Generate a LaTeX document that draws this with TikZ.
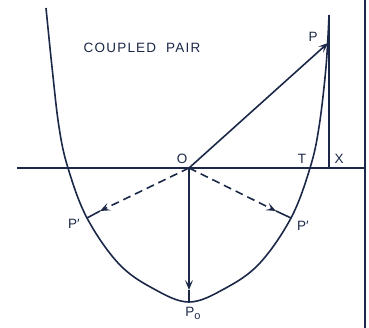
\documentclass[tikz,border=0pt]{standalone}
\usepackage{fontspec}
\setmainfont{Liberation Sans}
\usetikzlibrary{arrows.meta}
\definecolor{ink}{RGB}{28,40,72}
\begin{document}
\begin{tikzpicture}[x=1pt, y=-1pt, line width=1.6pt, ink, font=\fontsize{13.5}{15}\selectfont,
  vec/.style={-{Stealth[length=10pt, width=8pt, inset=4.5pt]}},
  dashvec/.style={vec, dash pattern=on 8pt off 5pt}]
  \useasboundingbox (0,0) rectangle (369,328);
  \coordinate (O) at (189,168);
  \coordinate (P) at (328,43);
  \coordinate (Pl) at (87,218);
  \coordinate (Pr) at (291,218);
  \coordinate (Po) at (189,302);
  \coordinate (Xt) at (329,15);
  \coordinate (X) at (329,168);
  \coordinate (al) at (100,211);
  \coordinate (ar) at (276,211);
  \coordinate (ao) at (189,290);
  \coordinate (axl) at (17,168);
  \coordinate (axr) at (365,168);
  \coordinate (wt) at (365,0);
  \coordinate (wb) at (365,328);
  \draw (axl) -- (axr);
  \draw (wt) -- (wb);
  \draw plot[smooth, tension=0.6] coordinates {(46,8) (52,67) (59,127) (68,168) (87,218) (119,264) (154,289) (189,302) (224,289) (259,264) (291,218) (310,168) (319,127) (326,67) (329,15)};
  \draw (Xt) -- (X);
  \draw[vec] (O) -- (P);
  \draw[vec] (O) -- (ao);
  \draw (ao) -- (Po);
  \foreach \a/\b in {al/Pl, ar/Pr} {
    \draw[dashvec] (O) -- (\a);
    \draw (\a) -- (\b);
  }
  \node (title) at (142,48) {\addfontfeature{LetterSpace=9}COUPLED\hspace{10pt}PAIR};
  \node (lP) at (313,37) {P};
  \node (lO) at (182,159) {O};
  \node (lT) at (302,159) {T};
  \node (lX) at (339,159) {X};
  \node (lPl) at (74,224) {P′};
  \node (lPr) at (303,226) {P′};
  \node (lPo) at (193,313) {P\raisebox{-3pt}{\fontsize{11}{11}\selectfont o}};
\end{tikzpicture}
\end{document}
